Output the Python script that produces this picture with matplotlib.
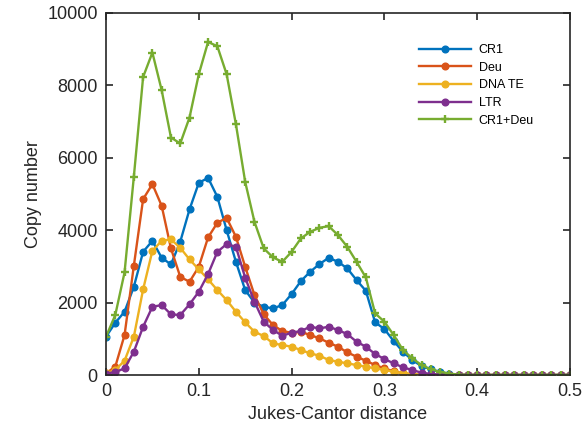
import numpy as np
import matplotlib.pyplot as plt

plt.rcParams['font.family'] = ['Liberation Sans', 'DejaVu Sans']

# Jukes-Cantor distance bins, 0 to 0.5 in steps of 0.01
dist = np.round(np.arange(0, 0.501, 0.01), 2)

cr1 = [1057, 1443, 1748, 2437, 3403, 3707, 3238, 3055, 3680, 4573,
       5308, 5446, 4921, 4002, 3127, 2346, 2000, 1885, 1840, 1932,
       2236, 2594, 2851, 3064, 3238, 3127, 2945, 2622, 2327, 1455,
       1270, 938, 643, 414, 248, 157, 80, 30, 10, 0,
       0, 0, 0, 0, 0, 0, 0, 0, 0, 0, 0]
deu = [47, 230, 1104, 3017, 4858, 5272, 4673, 3497, 2713, 2575,
       2989, 3800, 4204, 4342, 3817, 2989, 2208, 1675, 1380, 1214,
       1168, 1195, 1104, 1013, 892, 782, 626, 506, 395, 276,
       184, 100, 50, 20, 5, 0,
       0, 0, 0, 0, 0, 0, 0, 0, 0, 0, 0, 0, 0, 0, 0]
dna_te = [47, 138, 395, 1057, 2365, 3431, 3707, 3745, 3514, 3193,
          2917, 2641, 2346, 2070, 1748, 1454, 1195, 1076, 874, 828,
          782, 690, 598, 534, 414, 368, 322, 276, 230, 184,
          138, 92, 50, 25, 10, 0,
          0, 0, 0, 0, 0, 0, 0, 0, 0, 0, 0, 0, 0, 0, 0]
ltr = [40, 80, 184, 643, 1333, 1885, 1932, 1675, 1657, 1951,
       2300, 2788, 3403, 3616, 3543, 2687, 2024, 1472, 1242, 1085,
       1168, 1214, 1333, 1288, 1333, 1242, 1131, 920, 782, 580,
       442, 322, 212, 138, 64, 30, 10, 0,
       0, 0, 0, 0, 0, 0, 0, 0, 0, 0, 0, 0, 0]
cr1_deu = [1057, 1657, 2835, 5474, 8233, 8906, 7866, 6560, 6395, 7112,
           8308, 9200, 9080, 8308, 6928, 5335, 4231, 3497, 3248, 3127,
           3403, 3773, 3955, 4066, 4112, 3864, 3541, 3127, 2696, 1703,
           1472, 1104, 690, 461, 276, 157, 91, 40, 10, 0,
           0, 0, 0, 0, 0, 0, 0, 0, 0, 0, 0]

fig = plt.figure(figsize=(5.84, 4.40), dpi=100)
ax = fig.add_axes([0.1815, 0.1477, 0.7945, 0.8228])

ax.plot(dist, cr1, '-o', color='#0072BD', lw=1.7, ms=4.8, label='CR1')
ax.plot(dist, deu, '-o', color='#D95319', lw=1.7, ms=4.8, label='Deu')
ax.plot(dist, dna_te, '-o', color='#EDB120', lw=1.7, ms=4.8, label='DNA TE')
ax.plot(dist, ltr, '-o', color='#7E2F8E', lw=1.7, ms=4.8, label='LTR')
ax.plot(dist, cr1_deu, '-+', color='#77AC30', lw=1.7, ms=6, mew=1.7, label='CR1+Deu')

ax.set_xlim(0, 0.5)
ax.set_ylim(0, 10000)
ax.set_xticks([0, 0.1, 0.2, 0.3, 0.4, 0.5])
ax.set_xticklabels(['0', '0.1', '0.2', '0.3', '0.4', '0.5'])
ax.set_yticks([0, 2000, 4000, 6000, 8000, 10000])

for s in ax.spines.values():
    s.set_color('#262626')
    s.set_linewidth(1.2)
ax.tick_params(direction='in', top=True, right=True, length=5, width=1.2,
               colors='#262626', labelsize=13, pad=6)

ax.set_xlabel('Jukes-Cantor distance', fontsize=13, color='#262626')
ax.set_ylabel('Copy number', fontsize=13, color='#262626')

leg = ax.legend(loc='upper left', bbox_to_anchor=(0.65, 0.945), frameon=False,
                fontsize=9, handlelength=4.2, labelspacing=0.45, handletextpad=0.6)

fig.savefig('out.png', dpi=100)
